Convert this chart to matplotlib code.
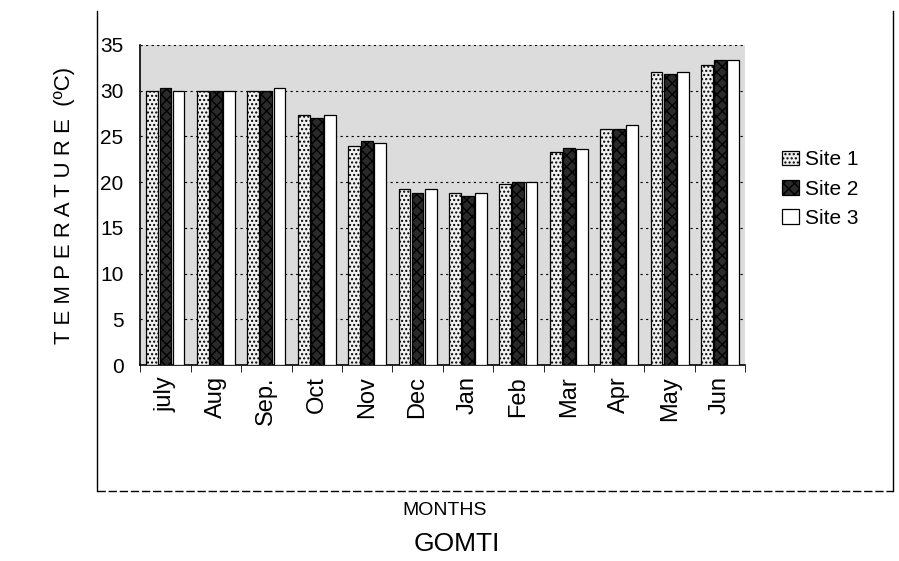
import numpy as np
import matplotlib.pyplot as plt
from matplotlib.lines import Line2D

months = ['july', 'Aug', 'Sep.', 'Oct', 'Nov', 'Dec', 'Jan', 'Feb', 'Mar', 'Apr', 'May', 'Jun']
site1 = [30.0, 30.0, 30.0, 27.3, 24.0, 19.3, 18.8, 19.8, 23.3, 25.8, 32.0, 32.8]
site2 = [30.3, 30.0, 30.0, 27.0, 24.5, 18.8, 18.5, 20.0, 23.7, 25.8, 31.8, 33.3]
site3 = [30.0, 30.0, 30.3, 27.3, 24.3, 19.2, 18.8, 20.0, 23.6, 26.2, 32.0, 33.3]

plt.rcParams['font.family'] = ['Liberation Sans', 'DejaVu Sans']


def main():
    fig = plt.figure(figsize=(8.99, 5.61), dpi=100)
    ax = fig.add_axes([0.156, 0.349, 0.673, 0.571])

    x = np.arange(len(months))
    w = 0.26
    ax.set_facecolor('#dcdcdc')
    ax.bar(x - w, site1, w * 0.9, color='#f0f0f0', edgecolor='black', hatch='....', lw=0.9, label='Site 1', zorder=3)
    ax.bar(x, site2, w * 0.9, color='#2a2a2a', edgecolor='black', hatch='xxx', lw=0.9, label='Site 2', zorder=3)
    ax.bar(x + w, site3, w * 0.9, color='white', edgecolor='black', lw=0.9, label='Site 3', zorder=3)

    ax.set_ylim(0, 35)
    ax.set_xlim(-0.5, len(months) - 0.5)
    ax.set_yticks(range(0, 36, 5))
    ax.yaxis.grid(True, ls=(0, (2, 3)), color='black', lw=0.8, zorder=0)
    ax.set_xticks(x)
    ax.set_xticklabels(months, rotation=90, fontsize=17)
    ax.set_xticks(np.arange(-0.5, len(months), 1), minor=True)
    ax.tick_params(axis='x', which='major', length=0, pad=8)
    ax.tick_params(axis='x', which='minor', length=5)
    ax.tick_params(axis='y', labelsize=15, length=0, pad=12)
    for s in ['top', 'right']:
        ax.spines[s].set_visible(False)
    ax.spines['left'].set_linewidth(1.2)
    ax.spines['bottom'].set_linewidth(1.2)

    ax.set_ylabel('T E M P E R A T U R E  (ºC)', fontsize=16, labelpad=18)
    ax.legend(loc='center left', bbox_to_anchor=(1.03, 0.55), frameon=False, fontsize=15,
              handlelength=0.8, handletextpad=0.3, labelspacing=0.5)

    # outer frame of the scanned chart
    fig.add_artist(Line2D([0.108, 0.108], [0.98, 0.125], color='black', lw=1))
    fig.add_artist(Line2D([0.993, 0.993], [0.98, 0.125], color='black', lw=1))
    fig.add_artist(Line2D([0.108, 0.993], [0.125, 0.125], color='black', lw=1, ls=(0, (6, 2))))

    fig.text(0.495, 0.09, 'MONTHS', ha='center', va='center', fontsize=14)
    fig.text(0.508, 0.03, 'GOMTI', ha='center', va='center', fontsize=19)

    fig.savefig('out.png', dpi=100)


if __name__ == "__main__":
    main()
